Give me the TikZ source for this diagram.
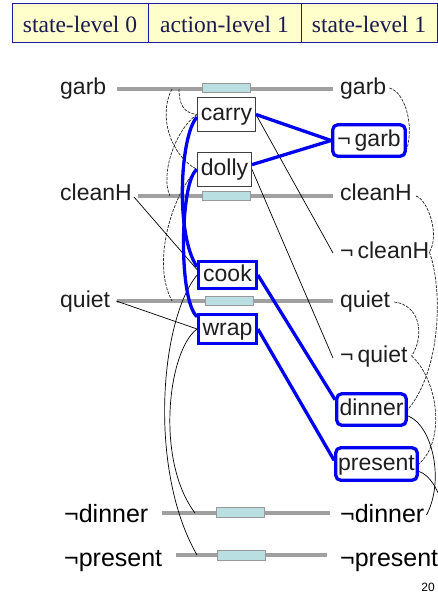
\documentclass[tikz,border=0pt]{standalone}
\usepackage{fontspec}
\setmainfont{Liberation Serif}
\setsansfont{Liberation Sans}
\usetikzlibrary{calc}
\definecolor{hdrfill}{HTML}{FFFFCC}
\definecolor{hdrline}{HTML}{1C1CA0}
\definecolor{hdrtext}{HTML}{1A1A50}
\definecolor{bargray}{HTML}{A0A0A0}
\definecolor{noopfill}{HTML}{B9DFE3}
\definecolor{txt}{HTML}{1E1E1E}
\definecolor{mblue}{HTML}{0000F0}
\begin{document}
\begin{tikzpicture}[x=1pt,y=-1pt,
 hdr/.style={draw=hdrline, line width=1pt, fill=hdrfill, text=hdrtext, font=\fontsize{23.5}{24}\selectfont, inner sep=0pt, minimum height=39pt, text height=18pt, text depth=0pt},
 lbl/.style={font=\sffamily\fontsize{23}{23}\selectfont, text=txt, inner sep=0pt, text height=12pt, text depth=0pt, anchor=west},
 biglbl/.style={font=\sffamily\fontsize{25}{25}\selectfont, text=black, inner sep=0pt, text height=14pt, text depth=0pt, anchor=west},
 act/.style={draw=black!75, line width=1pt, fill=white, font=\sffamily\fontsize{23}{23}\selectfont, text=txt, inner sep=0pt, text height=12pt, text depth=0pt},
 hact/.style={act, draw=mblue, line width=3.3pt},
 hfact/.style={hact, rounded corners=5pt},
 bar/.style={draw=bargray, line width=4.5pt},
 noop/.style={draw=black!40, line width=0.8pt, fill=noopfill, minimum width=48pt, minimum height=9pt, inner sep=0pt},
 mutex/.style={draw=black!85, line width=0.7pt, dash pattern=on 3pt off 1.2pt},
 link/.style={draw=black, line width=0.7pt},
 hlink/.style={draw=mblue, line width=3.3pt},
]
\useasboundingbox (0,0) rectangle (438,594);
\fill[white] (0,0) rectangle (438,594);

% header
\node[hdr, minimum width=136pt] (h1) at (80,23.5) {state-level 0};
\node[hdr, minimum width=153pt] (h2) at (224.5,23.5) {action-level 1};
\node[hdr, minimum width=136pt] (h3) at (369,23.5) {state-level 1};

% bars
\draw[bar] (117,89) -- (333,89);
\draw[bar] (138,196) -- (333,196);
\draw[bar] (117,301) -- (333,301);
\draw[bar] (162,513) -- (330,513);
\draw[bar] (176,555) -- (327,555);
\node[noop] (n1) at (226,87.5) {};
\node[noop] (n2) at (226,195.5) {};
\node[noop] (n3) at (229,301) {};
\node[noop, minimum height=10pt] (n4) at (240,512) {};
\node[noop, minimum height=10pt] (n5) at (241,555) {};

\coordinate (gA) at (172,89);
\coordinate (gB) at (179,89);
\coordinate (cA) at (170,196);
\coordinate (qA) at (172,301);
\coordinate (ndA) at (195,513);
\coordinate (npA) at (197,555);

% labels
\node[lbl] (gL) at (60,88) {garb};
\node[lbl] (cL) at (60,194) {cleanH};
\node[lbl] (qL) at (60,301) {quiet};
\node[biglbl] (ndL) at (64,515) {¬dinner};
\node[biglbl] (npL) at (64,559) {¬present};
\node[lbl] (gR) at (340,88) {garb};
\node[lbl] (cR) at (340,194) {cleanH};
\node[lbl] (ncR) at (340,252) {¬\kern4pt cleanH};
\node[lbl] (qR) at (340,301) {quiet};
\node[lbl] (nqR) at (340,356) {¬\kern4pt quiet};
\node[biglbl] (ndR) at (340,515) {¬dinner};
\node[biglbl] (npR) at (340,559) {¬present};

% action and fact boxes
\node[act, minimum width=58pt, minimum height=34pt] (carry) at (226.5,114.5) {carry};
\node[act, minimum width=54pt, minimum height=34pt] (dolly) at (224.5,169.5) {dolly};
\node[hact, minimum width=57.5pt, minimum height=26.5pt] (cook) at (227.5,275) {cook};
\node[hact, minimum width=57.5pt, minimum height=28.5pt] (wrap) at (227.5,329) {wrap};
\node[hfact, minimum width=72.5pt, minimum height=31.5pt] (ngarb) at (369,140.5) {¬\kern4pt garb};
\node[hfact, minimum width=69.5pt, minimum height=31.5pt] (dinner) at (371.5,409.5) {dinner};
\node[hfact, minimum width=81.5pt, minimum height=32.5pt] (present) at (376.5,464) {present};

% left mutex curves
\draw[mutex] (gB) .. controls (179,105) and (184,113) .. (carry.west);
\draw[mutex] (gA) .. controls (158,115) and (170,155) .. (dolly.west);
\draw[mutex] (carry.west) .. controls (175,130) and (160,175) .. (cA);
\draw[mutex] (dolly.west) .. controls (175,190) and (150,260) .. (qA);

% thin links
\draw[link] ($(cL.east)+(2,3)$) -- (cook.170);
\draw[link] ($(qL.east)+(6,0)$) -- (wrap.west);
\draw[link] (cook.west) .. controls (160,320) and (148,470) .. (npA);
\draw[link] (wrap.west) .. controls (168,350) and (155,460) .. (ndA);
\draw[link] (carry.east) -- ($(ncR.west)+(-7,1)$);
\draw[link] (dolly.east) -- ($(nqR.west)+(-7,2)$);

% blue links
\draw[hlink] (carry.east) -- (ngarb.west);
\draw[hlink] (dolly.10) -- (ngarb.west);
\draw[hlink] (cook.east) -- (dinner.165);
\draw[hlink] (wrap.east) -- (present.175);
\draw[hlink] (carry.185) .. controls (180,135) and (175,235) .. (cook.165);
\draw[hlink] (dolly.west) .. controls (180,180) and (178,300) .. (wrap.158);

% right mutex curves
\draw[mutex] ($(gR.east)+(3,0)$) .. controls (405,92) and (414,125) .. (ngarb.-12);
\draw[mutex] ($(cR.east)+(4,2)$) .. controls (428,200) and (440,235) .. (ncR.east);
\draw[mutex] (ncR.east) .. controls (443,290) and (441,370) .. (dinner.east);
\draw[mutex] ($(qR.east)+(4,1)$) .. controls (420,305) and (425,335) .. ($(nqR.east)+(4,0)$);
\draw[mutex] ($(nqR.east)+(4,0)$) .. controls (438,380) and (446,440) .. (present.east);

% right solid links
\draw[link] (dinner.-10) .. controls (432,425) and (445,480) .. ($(ndR.east)+(2,0)$);
\draw[link] (present.-10) .. controls (440,478) and (455,530) .. (npR.east);

\node[font=\sffamily\fontsize{12}{12}\selectfont, inner sep=0pt] (pg) at (428,587) {20};
\end{tikzpicture}
\end{document}
